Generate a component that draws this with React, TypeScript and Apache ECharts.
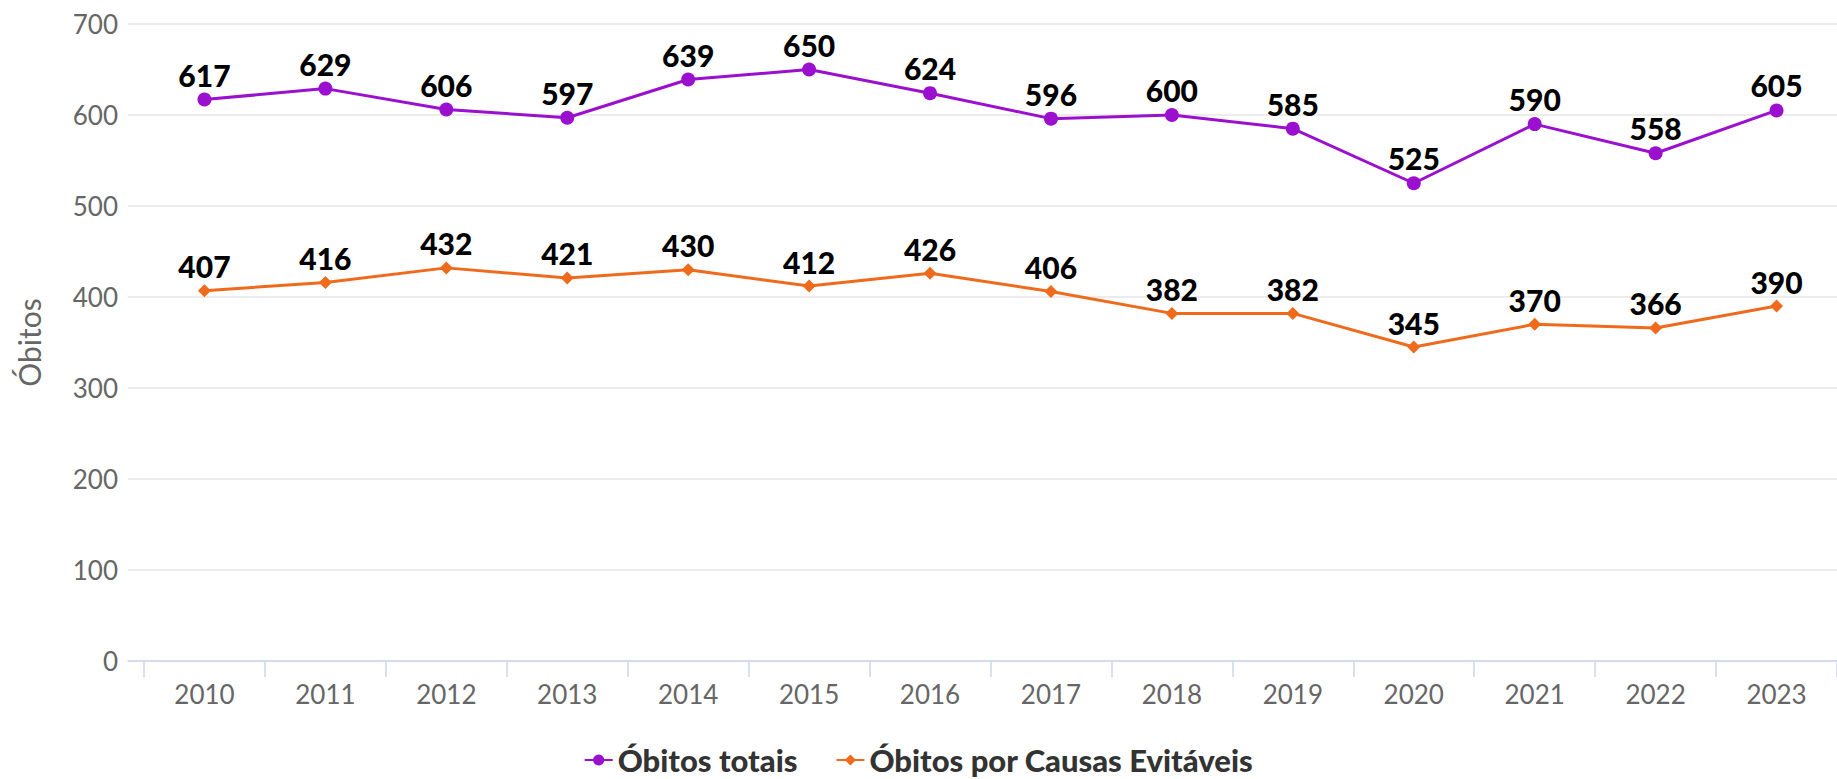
import React, { useEffect, useRef } from "react";
import * as echarts from "echarts";

const years = ["2010", "2011", "2012", "2013", "2014", "2015", "2016", "2017", "2018", "2019", "2020", "2021", "2022", "2023"];
const obitosTotais = [617, 629, 606, 597, 639, 650, 624, 596, 600, 585, 525, 590, 558, 605];
const obitosEvitaveis = [407, 416, 432, 421, 430, 412, 426, 406, 382, 382, 345, 370, 366, 390];
const seriesNames = ["Óbitos totais", "Óbitos por Causas Evitáveis"];
const yTicks = { min: 0, max: 700, interval: 100 };

const FONT = "Lato, 'Open Sans', sans-serif";

export default function App() {
  const ref = useRef<HTMLDivElement>(null);
  useEffect(() => {
    document.body.style.margin = "0";
    const chart = echarts.init(ref.current!, null, { renderer: "svg" });
    const idx = years.map((_, i) => i);
    const tickVals = [-0.5, ...idx.map((i) => i + 0.5)];
    const label = {
      show: true,
      position: "top" as const,
      distance: 3,
      color: "#000",
      fontFamily: FONT,
      fontWeight: 900,
      fontSize: 30,
    };
    chart.setOption({
      animation: false,
      textStyle: { fontFamily: FONT },
      grid: { left: 128, right: 0, top: 24, bottom: 118, containLabel: false },
      xAxis: {
        type: "value",
        min: -0.5 - 16 / 121,
        max: 13.5,
        splitLine: { show: false },
        axisLine: { show: true, lineStyle: { color: "#ccd6eb", width: 1.5 } },
        axisTick: { show: true, length: 16, customValues: tickVals, lineStyle: { color: "#ccd6eb", width: 1.5 } },
        axisLabel: {
          customValues: idx,
          formatter: (v: number) => years[Math.round(v)] ?? "",
          color: "#666",
          fontSize: 26,
          fontFamily: FONT,
          margin: 20,
        },
      },
      yAxis: {
        type: "value",
        min: yTicks.min,
        max: yTicks.max,
        interval: yTicks.interval,
        name: "Óbitos",
        nameLocation: "middle",
        nameGap: 84,
        nameTextStyle: { color: "#666", fontSize: 30, fontFamily: FONT },
        axisLine: { show: false },
        axisTick: { show: false },
        splitLine: { lineStyle: { color: "#e6e6e6", width: 1.5 } },
        axisLabel: { color: "#666", fontSize: 26, fontFamily: FONT, margin: 10 },
      },
      legend: {
        top: 743,
        left: "center",
        padding: 0,
        itemGap: 38,
        itemWidth: 28,
        itemHeight: 14,
        textStyle: { color: "#333", fontSize: 31, fontWeight: 900, fontFamily: FONT, lineHeight: 34 },
        data: seriesNames,
      },
      series: [
        {
          name: seriesNames[0],
          type: "line",
          data: obitosTotais.map((v, i) => [i, v]),
          color: "#9b0fcf",
          symbol: "circle",
          symbolSize: 14,
          lineStyle: { width: 3 },
          label,
        },
        {
          name: seriesNames[1],
          type: "line",
          data: obitosEvitaveis.map((v, i) => [i, v]),
          color: "#f06a1c",
          symbol: "diamond",
          symbolSize: 13,
          lineStyle: { width: 3 },
          label,
        },
      ],
    });
    return () => chart.dispose();
  }, []);
  return <div ref={ref} style={{ width: 1837, height: 779 }} />;
}
